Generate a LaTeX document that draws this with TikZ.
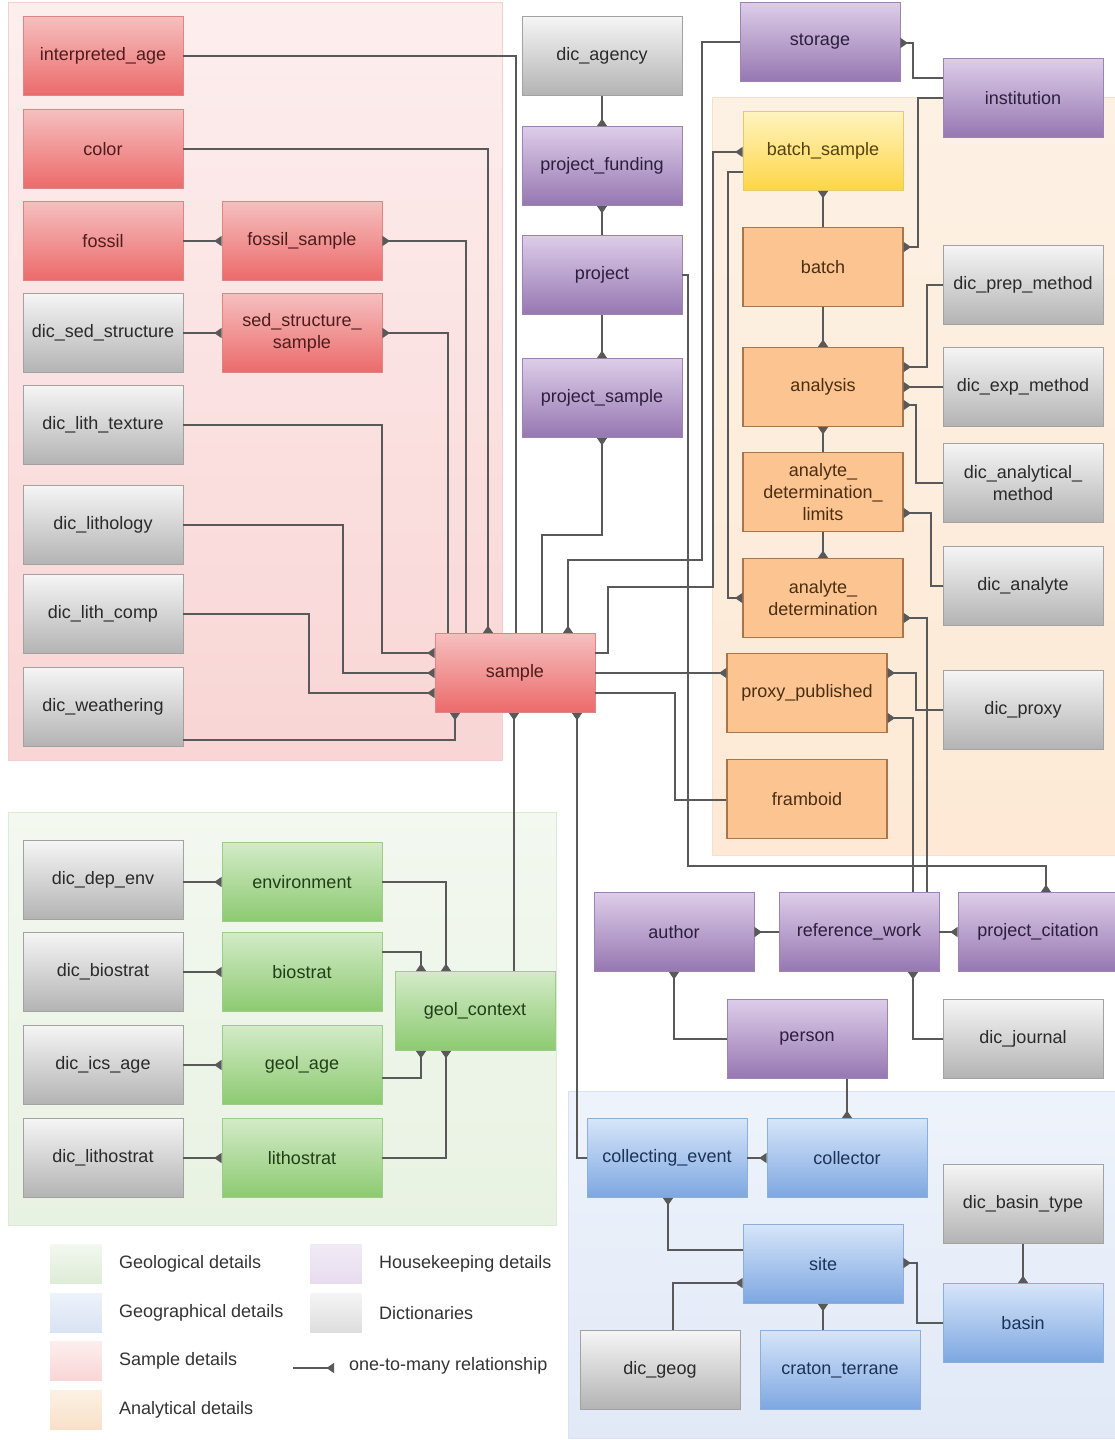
\documentclass[tikz,border=0pt]{standalone}
\usepackage{fontspec}
\setmainfont{Liberation Sans}
\usetikzlibrary{arrows.meta}

% table fills
\definecolor{rtop}{HTML}{F6BFBF}\definecolor{rbot}{HTML}{EC6A6A}\definecolor{rbrd}{HTML}{DD8585}\definecolor{rtxt}{HTML}{4E1C1C}
\definecolor{gtop}{HTML}{F5F5F5}\definecolor{gbot}{HTML}{B3B3B3}\definecolor{gbrd}{HTML}{A2A2A2}\definecolor{gtxt}{HTML}{2A2A2A}
\definecolor{ptop}{HTML}{DDCDE8}\definecolor{pbot}{HTML}{9677B2}\definecolor{pbrd}{HTML}{9C84B2}\definecolor{ptxt}{HTML}{2C1F3C}
\definecolor{ofil}{HTML}{FCC490}\definecolor{obrd}{HTML}{A8764A}\definecolor{otxt}{HTML}{4A2E12}
\definecolor{ytop}{HTML}{FFF4BF}\definecolor{ybot}{HTML}{FDD547}\definecolor{ybrd}{HTML}{E3CA6A}\definecolor{ytxt}{HTML}{55420F}
\definecolor{ntop}{HTML}{D3EBC8}\definecolor{nbot}{HTML}{8CCA70}\definecolor{nbrd}{HTML}{9DCB8A}\definecolor{ntxt}{HTML}{213E18}
\definecolor{btop}{HTML}{D6E5F9}\definecolor{bbot}{HTML}{7DA7E1}\definecolor{bbrd}{HTML}{8DAEDB}\definecolor{btxt}{HTML}{1D3257}
% group panels
\definecolor{pkA}{HTML}{FDEEEE}\definecolor{pkB}{HTML}{F9D5D5}\definecolor{pkE}{HTML}{F4CFCF}
\definecolor{grA}{HTML}{F3F8F0}\definecolor{grB}{HTML}{E8F2E2}\definecolor{grE}{HTML}{DDEBD5}
\definecolor{orA}{HTML}{FDF1E4}\definecolor{orB}{HTML}{FDE9D5}\definecolor{orE}{HTML}{F8E0C8}
\definecolor{blA}{HTML}{EEF3FB}\definecolor{blB}{HTML}{E1E9F7}\definecolor{blE}{HTML}{D8E2F2}
\definecolor{lnk}{HTML}{595959}
\definecolor{lgtxt}{HTML}{333333}

\begin{document}
\begin{tikzpicture}[x=1pt,y=-1pt,
  tbl/.style={draw, line width=0.8pt, minimum width=160pt, minimum height=79pt,
    inner sep=1pt, align=center, font=\fontsize{18}{22}\selectfont},
  redtbl/.style={tbl, top color=rtop, bottom color=rbot, draw=rbrd, text=rtxt},
  graytbl/.style={tbl, top color=gtop, bottom color=gbot, draw=gbrd, text=gtxt},
  purptbl/.style={tbl, top color=ptop, bottom color=pbot, draw=pbrd, text=ptxt},
  orgtbl/.style={tbl, fill=ofil, draw=obrd, text=otxt, line width=1.1pt},
  yeltbl/.style={tbl, top color=ytop, bottom color=ybot, draw=ybrd, text=ytxt},
  grntbl/.style={tbl, top color=ntop, bottom color=nbot, draw=nbrd, text=ntxt},
  blutbl/.style={tbl, top color=btop, bottom color=bbot, draw=bbrd, text=btxt},
  link/.style={draw=lnk, line width=1.3pt},
  many/.style={link, -{Triangle[reversed, length=7.5pt, width=10pt]}},
  swatch/.style={minimum width=53pt, minimum height=41pt, inner sep=0pt, draw=white, line width=0.5pt},
  lgtext/.style={anchor=west, inner sep=0pt, text=lgtxt, font=\fontsize{18}{22}\selectfont},
]
\useasboundingbox (0,0) rectangle (1114,1440);
\fill[white] (0,0) rectangle (1114,1440);

% ---- group panels ----
\path[top color=pkA, bottom color=pkB, draw=pkE, line width=0.6pt] (8,2) rectangle (502,760);
\path[top color=grA, bottom color=grB, draw=grE, line width=0.6pt] (8,812) rectangle (556,1225);
\path[top color=orA, bottom color=orB, draw=orE, line width=0.6pt] (712,97) rectangle (1118,855);
\path[top color=blA, bottom color=blB, draw=blE, line width=0.6pt] (568,1091) rectangle (1118,1438);

% ---- sample details ----
\node[redtbl] (interp) at (103,56) {interpreted\_age};
\node[redtbl] (color) at (103,149) {color};
\node[redtbl] (fossil) at (103,241) {fossil};
\node[redtbl] (fossilsample) at (302,241) {fossil\_sample};
\node[graytbl] (dicsed) at (103,333) {dic\_sed\_structure};
\node[redtbl] (sedsample) at (302,333) {sed\_structure\_\\sample};
\node[graytbl] (dictexture) at (103,425) {dic\_lith\_texture};
\node[graytbl] (diclithology) at (103,525) {dic\_lithology};
\node[graytbl] (diccomp) at (103,614) {dic\_lith\_comp};
\node[graytbl] (dicweather) at (103,707) {dic\_weathering};
\node[redtbl] (sample) at (515,673) {sample};

% ---- project column ----
\node[graytbl] (dicagency) at (602,56) {dic\_agency};
\node[purptbl] (projfunding) at (602,166) {project\_funding};
\node[purptbl] (project) at (602,275) {project};
\node[purptbl] (projsample) at (602,398) {project\_sample};
\node[purptbl] (storage) at (820,42) {storage};
\node[purptbl] (institution) at (1023,98) {institution};

% ---- analytical details ----
\node[yeltbl] (batchsample) at (823,151) {batch\_sample};
\node[orgtbl] (batch) at (823,267) {batch};
\node[orgtbl] (analysis) at (823,387) {analysis};
\node[orgtbl] (adl) at (823,492) {analyte\_\\determination\_\\limits};
\node[orgtbl] (ad) at (823,598) {analyte\_\\determination};
\node[orgtbl] (proxy) at (807,693) {proxy\_published};
\node[orgtbl] (framboid) at (807,799) {framboid};
\node[graytbl] (dicprep) at (1023,285) {dic\_prep\_method};
\node[graytbl] (dicexp) at (1023,387) {dic\_exp\_method};
\node[graytbl] (dicanalytical) at (1023,483) {dic\_analytical\_\\method};
\node[graytbl] (dicanalyte) at (1023,586) {dic\_analyte};
\node[graytbl] (dicproxy) at (1023,710) {dic\_proxy};

% ---- references and people ----
\node[purptbl] (author) at (674,932) {author};
\node[purptbl] (refwork) at (859,932) {reference\_work};
\node[purptbl] (projcit) at (1038,932) {project\_citation};
\node[purptbl] (person) at (807,1039) {person};
\node[graytbl] (dicjournal) at (1023,1039) {dic\_journal};

% ---- geographical details ----
\node[blutbl] (collevent) at (667,1158) {collecting\_event};
\node[blutbl] (collector) at (847,1158) {collector};
\node[graytbl] (dicbasintype) at (1023,1204) {dic\_basin\_type};
\node[blutbl] (site) at (823,1264) {site};
\node[blutbl] (basin) at (1023,1323) {basin};
\node[graytbl] (dicgeog) at (660,1370) {dic\_geog};
\node[blutbl] (craton) at (840,1370) {craton\_terrane};

% ---- geological details ----
\node[graytbl] (dicdepenv) at (103,880) {dic\_dep\_env};
\node[grntbl] (environment) at (302,882) {environment};
\node[graytbl] (dicbiostrat) at (103,972) {dic\_biostrat};
\node[grntbl] (biostrat) at (302,972) {biostrat};
\node[grntbl] (geolcontext) at (475,1011) {geol\_context};
\node[graytbl] (dicicsage) at (103,1065) {dic\_ics\_age};
\node[grntbl] (geolage) at (302,1065) {geol\_age};
\node[graytbl] (diclithostrat) at (103,1158) {dic\_lithostrat};
\node[grntbl] (lithostrat) at (302,1158) {lithostrat};

% ---- connectors: sample details ----
\draw[link] (interp.east) -| (516,0 |- sample.north);
\draw[many] (color.east) -| (488,0 |- sample.north);
\draw[many] (466,0 |- sample.north) |- (fossilsample.east);
\draw[many] (448,0 |- sample.north) |- (sedsample.east);
\draw[many] (fossil.east) -- (fossilsample.west);
\draw[many] (dicsed.east) -- (sedsample.west);
\draw[many] (dictexture.east) -| (382,653) -- (sample.west |- 0,653);
\draw[many] (diclithology.east) -| (343,673) -- (sample.west);
\draw[many] (diccomp.east) -| (309,693) -- (sample.west |- 0,693);
\draw[many] (dicweather.east |- 0,740) -| (455,0 |- sample.south);

% ---- connectors: project column ----
\draw[many] (dicagency.south) -- (projfunding.north);
\draw[many] (project.north) -- (projfunding.south);
\draw[many] (project.south) -- (projsample.north);
\draw[many] (542,0 |- sample.north) |- (602,535) -- (projsample.south);
\draw[many] (storage.west) -| (702,560) -| (568,0 |- sample.north);
\draw[many] (project.east) -| (688,866) -| (1046,0 |- projcit.north);

% ---- connectors: sample to analytical details ----
\draw[many] (sample.east |- 0,653) -| (608,587) -| (713,152) -- (batchsample.west |- 0,152);
\draw[many] (batchsample.west |- 0,172) -| (728,598) -- (ad.west);
\draw[many] (sample.east) -- (proxy.west |- sample.east);
\draw[link] (sample.east |- 0,693) -| (675,800) -- (framboid.west |- 0,800);

% ---- connectors: analytical details ----
\draw[many] (institution.west |- 0,78) -| (913,43) -- (storage.east |- 0,43);
\draw[many] (institution.west) -| (918,247) -- (batch.east |- 0,247);
\draw[many] (batch.north) -- (batchsample.south);
\draw[many] (batch.south) -- (analysis.north);
\draw[many] (adl.north) -- (analysis.south);
\draw[many] (adl.south) -- (ad.north);
\draw[many] (dicprep.west) -| (927,367) -- (analysis.east |- 0,367);
\draw[many] (dicexp.west) -- (analysis.east);
\draw[many] (dicanalytical.west) -| (916,405) -- (analysis.east |- 0,405);
\draw[many] (dicanalyte.west) -| (931,513) -- (adl.east |- 0,513);
\draw[many] (dicproxy.west) -| (916,673) -- (proxy.east |- 0,673);
\draw[many] (927,0 |- refwork.north) |- (ad.east |- 0,618);
\draw[many] (913,0 |- refwork.north) |- (proxy.east |- 0,718);

% ---- connectors: references and people ----
\draw[many] (refwork.west) -- (author.east);
\draw[many] (refwork.east) -- (projcit.west);
\draw[many] (person.west) -| (author.south);
\draw[many] (dicjournal.west) -| (913,0 |- refwork.south);
\draw[many] (847,0 |- person.south) -- (collector.north);

% ---- connectors: geographical details ----
\draw[many] (collevent.east) -- (collector.west);
\draw[many] (collevent.west) -| (577,0 |- sample.south);
\draw[many] (site.west |- 0,1250) -| (668,0 |- collevent.south);
\draw[many] (673,0 |- dicgeog.north) |- (site.west |- 0,1283);
\draw[many] (823,0 |- craton.north) -- (site.south);
\draw[many] (basin.west) -| (917,1263) -- (site.east |- 0,1263);
\draw[many] (dicbasintype.south) -- (basin.north);

% ---- connectors: geological details ----
\draw[many] (dicdepenv.east |- environment.west) -- (environment.west);
\draw[many] (dicbiostrat.east) -- (biostrat.west);
\draw[many] (dicicsage.east) -- (geolage.west);
\draw[many] (diclithostrat.east) -- (lithostrat.west);
\draw[many] (environment.east) -| (446,0 |- geolcontext.north);
\draw[many] (biostrat.east |- 0,952) -| (421,0 |- geolcontext.north);
\draw[many] (geolage.east |- 0,1078) -| (421,0 |- geolcontext.south);
\draw[many] (lithostrat.east) -| (446,0 |- geolcontext.south);
\draw[many] (514,0 |- geolcontext.north) -- (514,0 |- sample.south);

% ---- legend ----
\node[swatch, top color=grA, bottom color=grE] (lgeo) at (76,1264) {};
\node[swatch, top color=blA, bottom color=blE] (lgeog) at (76,1313) {};
\node[swatch, top color=pkA, bottom color=pkB] (lsam) at (76,1361) {};
\node[swatch, top color=orA, bottom color=orE] (lana) at (76,1410) {};
\node[swatch, top color=ptop!40, bottom color=ptop!70] (lhouse) at (336,1264) {};
\node[swatch, top color=gtop, bottom color=gtop!90!black] (ldic) at (336,1313) {};
\node[lgtext] (tgeo) at (119,1264) {Geological details};
\node[lgtext] (tgeog) at (119,1313) {Geographical details};
\node[lgtext] (tsam) at (119,1361) {Sample details};
\node[lgtext] (tana) at (119,1410) {Analytical details};
\node[lgtext] (thouse) at (379,1264) {Housekeeping details};
\node[lgtext] (tdic) at (379,1313) {Dictionaries};
\coordinate (lgA) at (293,1368);
\coordinate (lgB) at (334,1368);
\draw[many] (lgA) -- (lgB);
\node[lgtext] (tone) at (349,1366) {one-to-many relationship};
\end{tikzpicture}
\end{document}
